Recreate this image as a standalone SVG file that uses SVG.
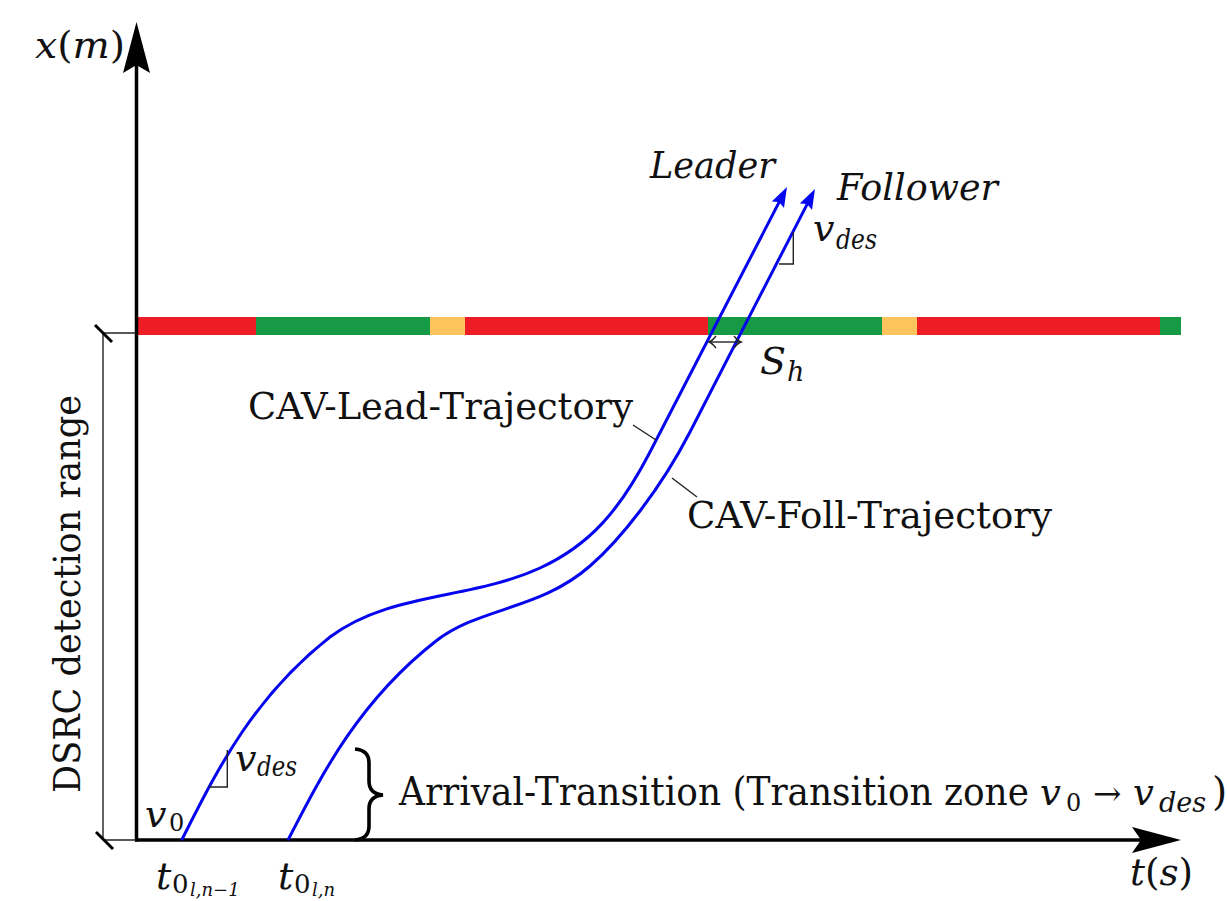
<svg xmlns="http://www.w3.org/2000/svg" width="1227" height="901" viewBox="0 0 1227 901">
  <style>
    .t { font-family: "DejaVu Serif", "Liberation Serif", "Noto Serif", serif; fill: #111; }
    .i { font-style: italic; }
    .traj { fill: none; stroke: #0505ee; stroke-width: 3; }
    .thin { fill: none; stroke: #222; stroke-width: 1.4; }
    .axis { fill: none; stroke: #000; stroke-width: 3.5; }
    .tick { stroke: #000; stroke-width: 3; }
  </style>
  <defs>
    <marker id="blueHead" viewBox="0 0 20 14" refX="12" refY="7" markerWidth="20" markerHeight="14" markerUnits="userSpaceOnUse" orient="auto">
      <path d="M0,0 L20,7 L0,14 L3,7 Z" fill="#0505ee"/>
    </marker>
  </defs>

  <!-- signal timing bar -->
  <g id="signal-bar">
    <rect x="137" y="317" width="119" height="18" fill="#ee1c25"/>
    <rect x="256" y="317" width="174" height="18" fill="#179a46"/>
    <rect x="430" y="317" width="35" height="18" fill="#fdc35c"/>
    <rect x="465" y="317" width="243" height="18" fill="#ee1c25"/>
    <rect x="708" y="317" width="174" height="18" fill="#179a46"/>
    <rect x="882" y="317" width="35" height="18" fill="#fdc35c"/>
    <rect x="917" y="317" width="243" height="18" fill="#ee1c25"/>
    <rect x="1160" y="317" width="21" height="18" fill="#179a46"/>
  </g>

  <!-- axes -->
  <g id="axes">
    <line class="axis" x1="136.5" y1="841.5" x2="136.5" y2="62"/>
    <polygon points="136.5,22 150,73 136.5,65 123,73" fill="#000"/>
    <line class="axis" x1="135" y1="840" x2="1145" y2="840"/>
    <polygon points="1181,840 1132,827 1141,840 1132,853" fill="#000"/>
    <text class="t" x="35" y="58" font-size="38" textLength="90" lengthAdjust="spacingAndGlyphs"><tspan class="i">x</tspan>(<tspan class="i">m</tspan>)</text>
    <text class="t" x="1130" y="885" font-size="38" textLength="63" lengthAdjust="spacingAndGlyphs"><tspan class="i">t</tspan>(<tspan class="i">s</tspan>)</text>
  </g>

  <!-- DSRC detection range dimension -->
  <g id="dsrc-range">
    <line class="thin" x1="103" y1="333" x2="103" y2="840"/>
    <line class="thin" x1="103" y1="333" x2="136" y2="333"/>
    <line class="thin" x1="103" y1="840" x2="136" y2="840"/>
    <line class="tick" x1="95" y1="325" x2="112" y2="342"/>
    <line class="tick" x1="96" y1="832" x2="113" y2="849"/>
    <text class="t" transform="translate(80,793) rotate(-90)" font-size="38" textLength="398" lengthAdjust="spacingAndGlyphs">DSRC detection range</text>
  </g>

  <!-- connectors: trajectories -->
  <g id="connectors">
    <path id="lead-traj" class="traj" marker-end="url(#blueHead)" d="M181.7,840 C215,775 250,700 330,637 C390,592 470,600 540,568 C590,545 620,510 650,452 L783.3,194.1"/>
    <path id="foll-traj" class="traj" marker-end="url(#blueHead)" d="M288,840 C321,776 358,702 436,641 C480,607 540,610 590,566 C620,540 660,490 690,432 L811.3,196.1"/>
    <line class="thin" x1="709" y1="342" x2="741" y2="342"/>
    <path class="thin" d="M716,336 Q712,341 709,342 Q712,343 716,348"/>
    <path class="thin" d="M734,336 Q738,341 741,342 Q738,343 734,348"/>
    <line class="thin" x1="633" y1="425" x2="656" y2="440"/>
    <line class="thin" x1="672" y1="478" x2="697" y2="497"/>
    <polyline class="thin" points="779,264 793.3,264 793.3,232"/>
    <polyline class="thin" points="209,787 227.3,787 227.3,750"/>
    <path d="M355,749 Q369,750 369,763 L369,781 Q369,794 383,795 Q369,796 369,809 L369,826 Q369,839 355,840" fill="none" stroke="#000" stroke-width="3.6"/>
  </g>

  <!-- labels -->
  <g id="label-leader">
    <text class="t i" x="650" y="178" font-size="38" textLength="125" lengthAdjust="spacingAndGlyphs">Leader</text>
  </g>
  <g id="label-follower">
    <text class="t i" x="837" y="200" font-size="38" textLength="161" lengthAdjust="spacingAndGlyphs">Follower</text>
  </g>
  <g id="label-vdes-top">
    <text class="t i" x="813" y="241" font-size="38">v</text>
    <text class="t i" x="836" y="249" font-size="27" textLength="41" lengthAdjust="spacingAndGlyphs">des</text>
  </g>
  <g id="label-sh">
    <text class="t i" x="760" y="374" font-size="38">S</text>
    <text class="t i" x="787" y="381" font-size="27">h</text>
  </g>
  <g id="label-lead-traj">
    <text class="t" x="248" y="419" font-size="38" textLength="385" lengthAdjust="spacingAndGlyphs">CAV-Lead-Trajectory</text>
  </g>
  <g id="label-foll-traj">
    <text class="t" x="687" y="528" font-size="38" textLength="365" lengthAdjust="spacingAndGlyphs">CAV-Foll-Trajectory</text>
  </g>
  <g id="label-vdes-bottom">
    <text class="t i" x="235" y="771" font-size="38">v</text>
    <text class="t i" x="257" y="776" font-size="27" textLength="40" lengthAdjust="spacingAndGlyphs">des</text>
  </g>
  <g id="label-v0">
    <text class="t i" x="145" y="827" font-size="38">v</text>
    <text class="t" x="169" y="831" font-size="24">0</text>
  </g>
  <g id="label-arrival">
    <text class="t" x="399" y="805" font-size="39" textLength="630" lengthAdjust="spacingAndGlyphs">Arrival-Transition (Transition zone</text>
    <text class="t" y="805" font-size="37"><tspan class="i" x="1040">v</tspan><tspan x="1066" dy="6" font-size="24">0</tspan><tspan x="1093" dy="-6" font-size="34">→</tspan><tspan class="i" x="1133">v</tspan><tspan class="i" x="1159" dy="7" font-size="27">des</tspan><tspan x="1212" dy="-7" font-size="39">)</tspan></text>
  </g>
  <g id="label-t0-lead">
    <text class="t i" x="156" y="889" font-size="38">t</text>
    <text class="t" x="172" y="893" font-size="26">0</text>
    <text class="t i" x="190" y="896" font-size="18">l,n−1</text>
  </g>
  <g id="label-t0-foll">
    <text class="t i" x="278" y="889" font-size="38">t</text>
    <text class="t" x="294" y="893" font-size="26">0</text>
    <text class="t i" x="312" y="896" font-size="18">l,n</text>
  </g>
</svg>
